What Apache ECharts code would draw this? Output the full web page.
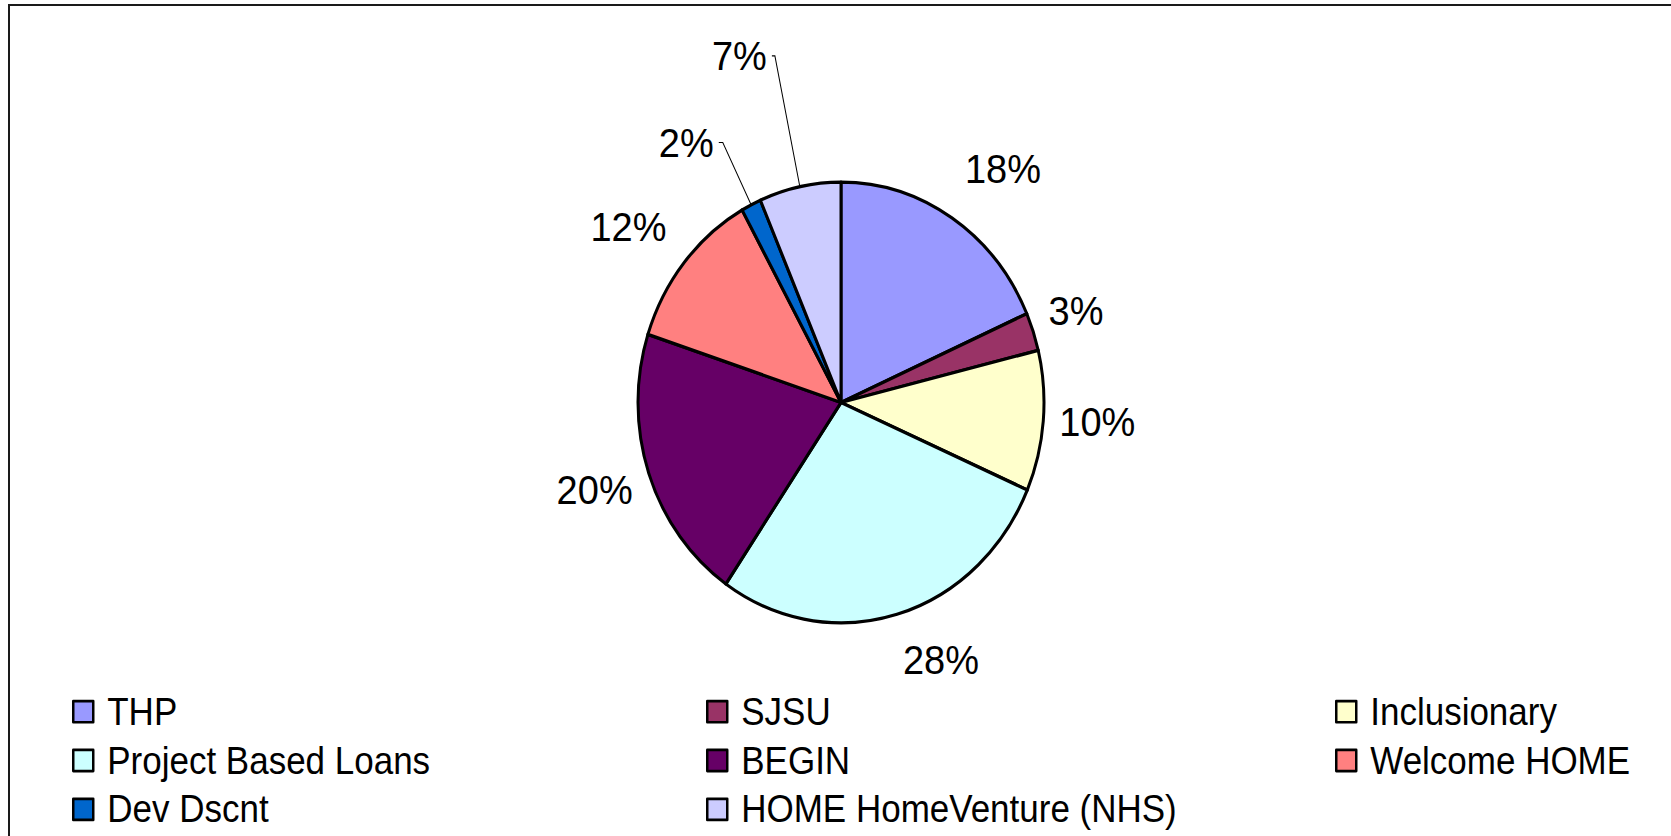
<!DOCTYPE html>
<html lang="en">
<head>
    <meta charset="UTF-8"/>
    <script src="https://cdn.jsdelivr.net/npm/echarts@6/dist/echarts.min.js"></script>
    <title>funding_pie</title>
    <style>
        html, body { margin: 0; padding: 0; background: #fff; overflow: hidden; }
    </style>
</head>
<body>

<!-- frame of the original chart area (only top and left edges are visible) -->
<div id="frame"
     style="position:absolute;left:8px;top:4px;width:1800px;height:900px;border-top:2px solid #1a1a1a;border-left:2px solid #1a1a1a;"></div>
<!-- the original picture is stretched a little vertically, so the chart is too -->
<div id="main"
     style="position:absolute;left:0;top:0;width:1671px;height:770px;transform:scaleY(1.0857);transform-origin:0 0;"></div>
<script type="text/javascript">
    // slices, clockwise from 12 o'clock
    var categories = ['THP', 'SJSU', 'Inclusionary', 'Project Based Loans', 'BEGIN',
        'Welcome HOME', 'Dev Dscnt', 'HOME HomeVenture (NHS)'];
    var shares = [18.4, 2.8, 10.3, 28.1, 20.4, 11.9, 1.6, 6.5];
    var colors = ['#9999FF', '#993366', '#FFFFCC', '#CCFFFF', '#660066', '#FF8080', '#0066CC', '#CCCCFF'];

    // legend columns
    var legendCol1 = ['THP', 'Project Based Loans', 'Dev Dscnt'];
    var legendCol2 = ['SJSU', 'BEGIN', 'HOME HomeVenture (NHS)'];
    var legendCol3 = ['Inclusionary', 'Welcome HOME'];

    // label placement: [length, length2] of the (mostly hidden) label line
    var leaderLen = [[54, -21.5], [61.5, -48], [0, 11], [43, -11], [46, -32.5], [52, -27.5], [64, 4], [123, 3]];
    var leaderShow = [false, false, false, false, false, false, true, true];

    var myChart = echarts.init(document.getElementById('main'), null, {renderer: 'svg'});

    var pieData = categories.map(function (name, i) {
        return {
            name: name,
            value: shares[i],
            itemStyle: {color: colors[i]},
            labelLine: {show: leaderShow[i], length: leaderLen[i][0], length2: leaderLen[i][1]}
        };
    });

    function makeLegend(items, left) {
        return {
            data: items,
            orient: 'vertical',
            left: left,
            top: 638,
            padding: 0,
            itemGap: 10,
            itemWidth: 20,
            itemHeight: 19.5,
            icon: 'rect',
            selectedMode: false,
            itemStyle: {borderColor: '#000', borderWidth: 2.5},
            textStyle: {
                fontFamily: 'Liberation Sans',
                fontSize: 35,
                lineHeight: 35,
                color: '#000',
                padding: [0, 0, 0, 9]
            }
        };
    }

    var option = {
        backgroundColor: 'transparent',
        animation: false,
        legend: [
            makeLegend(legendCol1, 72),
            makeLegend(legendCol2, 706),
            makeLegend(legendCol3, 1335)
        ],
        series: [
            {
                type: 'pie',
                center: [841, 370.7],
                radius: 203,
                startAngle: 90,
                clockwise: true,
                percentPrecision: 0,
                avoidLabelOverlap: false,
                itemStyle: {borderColor: '#000', borderWidth: 3},
                label: {
                    show: true,
                    position: 'outside',
                    formatter: '{d}%',
                    fontFamily: 'Liberation Sans',
                    fontSize: 38,
                    color: '#000'
                },
                labelLine: {lineStyle: {color: '#000', width: 1}},
                emphasis: {disabled: true},
                data: pieData
            }
        ]
    };

    myChart.setOption(option);
</script>
</body>
</html>
